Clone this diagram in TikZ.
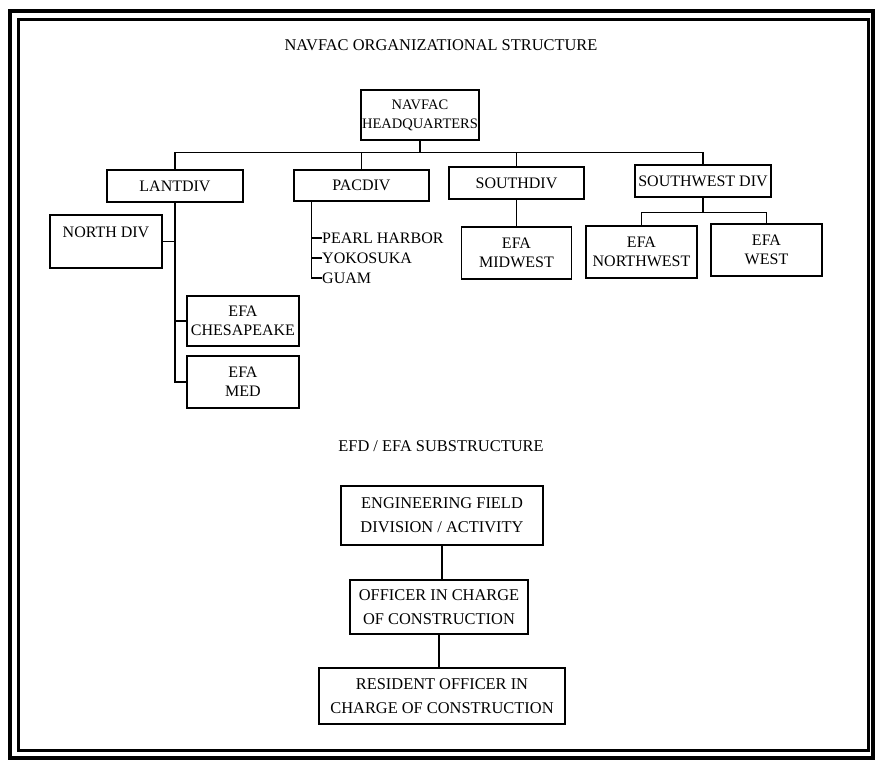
\documentclass[tikz,border=0pt]{standalone}
\usepackage{fontspec}
\setmainfont{Liberation Serif}
\tikzset{
  orgbox/.style={draw, line width=1.3pt, align=center, inner sep=1pt},
  link/.style={line width=1.3pt},
  upper/.style={font=\fontsize{16}{19}\selectfont},
  lower/.style={font=\fontsize{16.4}{24}\selectfont}
}
\begin{document}
\begin{tikzpicture}[x=1pt,y=-1pt]
  \useasboundingbox (0,0) rectangle (876,765);
  % frame
  \draw[line width=4.5pt] (10,11) rectangle (873,758);
  \draw[line width=3pt] (18,20) rectangle (868,750);
  % headquarters and divisions
  \node[lower] (title) at (441,45) {NAVFAC ORGANIZATIONAL STRUCTURE};
  \node[orgbox,font=\fontsize{14.5}{19}\selectfont,minimum width=112pt,minimum height=50pt] (hq) at (420,115) {NAVFAC\\HEADQUARTERS};
  \node[orgbox,upper,minimum width=136pt,minimum height=32pt] (lant) at (175,186) {LANTDIV};
  \node[orgbox,upper,minimum width=135pt,minimum height=31pt] (pac) at (361.5,185.5) {PACDIV};
  \node[orgbox,upper,minimum width=135pt,minimum height=32pt] (south) at (516.5,183) {SOUTHDIV};
  \node[orgbox,upper,minimum width=136pt,minimum height=32pt] (sw) at (703,181) {SOUTHWEST DIV};
  \draw[link] (hq.south) -- ++(0,12) coordinate (bus);
  \draw[link] (lant.north) |- (bus) -| (sw.north);
  \draw[link] (pac.north) -- (pac.north |- bus);
  \draw[link] (south.north) -- (south.north |- bus);
  % LANTDIV
  \node[orgbox,upper,minimum width=112pt,minimum height=53pt] (north) at (106,241.5) {NORTH DIV\\~};
  \node[orgbox,upper,minimum width=112pt,minimum height=50pt] (chesa) at (243,321) {EFA\\CHESAPEAKE};
  \node[orgbox,upper,minimum width=112pt,minimum height=52pt] (med) at (243,382) {EFA\\MED};
  \draw[link] (lant.south) |- (med.west);
  \draw[link] (north.east) -- (north.east -| lant.south);
  \draw[link] (chesa.west) -- (chesa.west -| lant.south);
  % PACDIV
  \node[upper,anchor=west,inner sep=0pt] (pearl) at (322,238) {PEARL HARBOR};
  \node[upper,anchor=west,inner sep=0pt] (yoko) at (322,258) {YOKOSUKA};
  \node[upper,anchor=west,inner sep=0pt] (guam) at (322,278) {GUAM};
  \draw[link] ([xshift=18pt]pac.south west) |- (guam.west);
  \draw[link] (pearl.west) -- ++(-10,0);
  \draw[link] (yoko.west) -- ++(-10,0);
  % SOUTHDIV
  \node[orgbox,upper,minimum width=110pt,minimum height=52pt] (midwest) at (516.5,253) {EFA\\MIDWEST};
  \draw[link] (south.south) -- (midwest.north);
  % SOUTHWEST DIV
  \node[orgbox,upper,minimum width=111pt,minimum height=52pt] (nw) at (641.5,252) {EFA\\NORTHWEST};
  \node[orgbox,upper,minimum width=111pt,minimum height=52pt] (west) at (766.5,250) {EFA\\WEST};
  \draw[link] (sw.south) -- ++(0,15) coordinate (swbus);
  \draw[link] (nw.north) |- (swbus) -| (west.north);
  % substructure
  \node[lower] (subtitle) at (441,446) {EFD / EFA SUBSTRUCTURE};
  \node[orgbox,lower,minimum width=202pt,minimum height=59pt] (efd) at (442,515.5) {ENGINEERING FIELD\\DIVISION / ACTIVITY};
  \node[orgbox,lower,minimum width=178pt,minimum height=54pt] (oicc) at (439,607) {OFFICER IN CHARGE\\OF CONSTRUCTION};
  \node[orgbox,lower,minimum width=246pt,minimum height=56pt] (roicc) at (442,696) {RESIDENT OFFICER IN\\CHARGE OF CONSTRUCTION};
  \draw[link] (efd.south) -- (efd.south |- oicc.north);
  \draw[link] (oicc.south) -- (oicc.south |- roicc.north);
\end{tikzpicture}
\end{document}
